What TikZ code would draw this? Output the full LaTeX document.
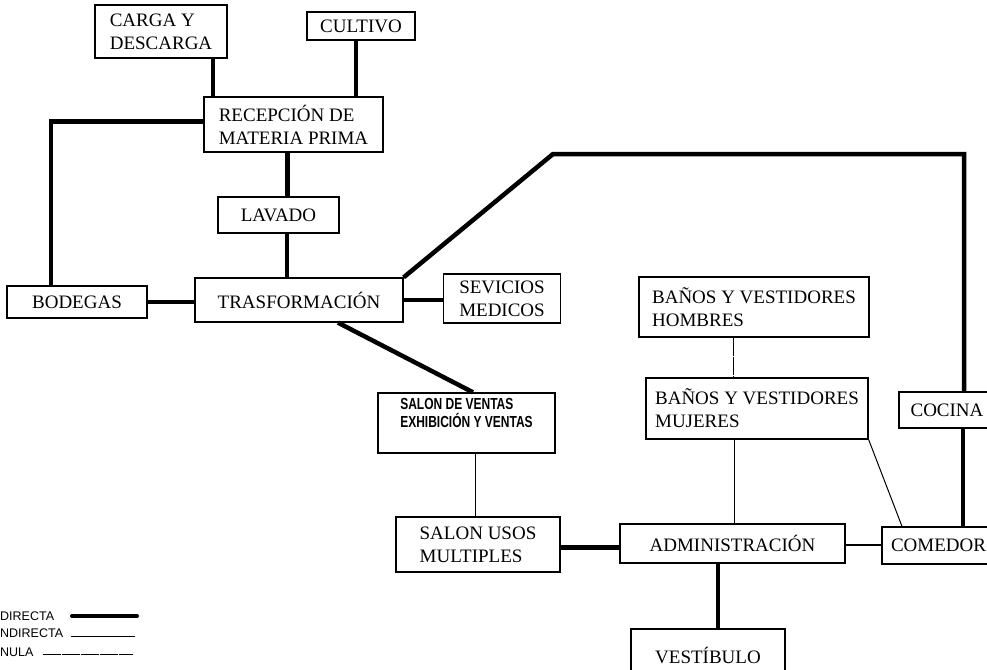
\documentclass[tikz,border=0pt]{standalone}
\usepackage{fontspec}
\setmainfont{Liberation Serif}
\newfontfamily\legendfont{Liberation Sans}
\newfontfamily\narrowsans[FakeStretch=0.75]{Liberation Sans}
\usetikzlibrary{calc}
\tikzset{
  zona/.style={draw, line width=1.3pt, inner sep=0pt, align=left, font=\fontsize{19}{23}\selectfont},
  zonasans/.style={zona, font=\narrowsans\bfseries\fontsize{16}{18}\selectfont},
  directa/.style={line width=4.5pt},
  media/.style={line width=2pt},
  indirecta/.style={line width=1pt},
  nula/.style={line width=0.8pt, dash pattern=on 18pt off 1pt},
  leyenda/.style={font=\legendfont\fontsize{12.5}{14}\selectfont, anchor=base west, inner sep=0pt},
}

\begin{document}
\begin{tikzpicture}[x=1pt,y=-1pt]
\useasboundingbox (0,0) rectangle (987,669);
\clip (0,0) rectangle (987,669);
% ---------------- zonas
\node[zona, minimum width=132pt, minimum height=53pt] (carga) at (161,31.5) {CARGA Y\\DESCARGA};
\node[zona, minimum width=108pt, minimum height=28pt] (cultivo) at (361,26) {CULTIVO};
\node[zona, minimum width=179pt, minimum height=55pt] (recep) at (293.5,124.5) {RECEPCIÓN DE\\MATERIA PRIMA};
\node[zona, minimum width=121pt, minimum height=36pt] (lavado) at (278.5,215) {LAVADO};
\node[zona, minimum width=140pt, minimum height=32pt] (bodegas) at (77,302) {BODEGAS};
\node[zona, minimum width=208pt, minimum height=44pt] (trasf) at (299,300) {TRASFORMACIÓN};
\node[zona, minimum width=117pt, minimum height=49pt] (sev) at (502,298.5) {SEVICIOS\\MEDICOS};
\node[zonasans, minimum width=177pt, minimum height=60pt] (ventas) at (466.5,423) {SALON DE VENTAS\\EXHIBICIÓN Y VENTAS\\[2pt]\mbox{}};
\node[zona, minimum width=164pt, minimum height=55pt] (usos) at (478,544.5) {SALON USOS\\MULTIPLES};
\node[zona, line width=2.2pt, minimum width=225pt, minimum height=39pt] (admin) at (732.5,543.5) {ADMINISTRACIÓN};
\node[zona, minimum width=113pt, minimum height=37pt] (comedor) at (938.5,545.5) {COMEDOR};
\node[zona, minimum width=154pt, minimum height=52pt] (vest) at (708,655) {VESTÍBULO};
\node[zona, minimum width=230pt, minimum height=60pt] (hombres) at (754,307) {BAÑOS Y VESTIDORES\\HOMBRES};
\node[zona, minimum width=222pt, minimum height=61pt] (mujeres) at (757,408.5) {BAÑOS Y VESTIDORES\\MUJERES};
\node[zona, minimum width=96pt, minimum height=36pt] (cocina) at (947,410) {COCINA};
% ---------------- relaciones
\draw[directa] ([xshift=52pt]carga.south) -- ([xshift=52pt]carga.south |- recep.north);
\draw[directa] ([xshift=-5pt]cultivo.south) -- ([xshift=-5pt]cultivo.south |- recep.north);
\draw[directa] ([yshift=3pt]recep.west) -| ([xshift=-26pt]bodegas.north);
\draw[directa] ([xshift=-6pt]recep.south) -- ([xshift=-6pt]recep.south |- lavado.north);
\draw[directa] ([xshift=8.5pt]lavado.south) -- ([xshift=8.5pt]lavado.south |- trasf.north);
\draw[directa] (bodegas.east) -- (bodegas.east -| trasf.west);
\draw[directa] (trasf.east) -- (trasf.east -| sev.west);
\coordinate (quiebre) at (553,154);
\draw[directa] (trasf.north east) -- (quiebre) -| ([xshift=17pt]cocina.north);
\draw[directa] ([xshift=16pt]cocina.south) -- ([xshift=16pt]cocina.south |- comedor.north);
\draw[directa] ([xshift=39pt]trasf.south) -- ([xshift=6.5pt]ventas.north);
\draw[indirecta] ([xshift=8.5pt]ventas.south) -- ([xshift=8.5pt]ventas.south |- usos.north);
\draw[directa] ([yshift=-3pt]usos.east) -- ([yshift=-3pt]usos.east -| admin.west);
\draw[media] ([yshift=-1.5pt]admin.east) -- ([yshift=-1.5pt]admin.east -| comedor.west);
\draw[directa] ([xshift=-14.5pt]admin.south) -- ([xshift=-14.5pt]admin.south |- vest.north);
\draw[indirecta] ([xshift=-23pt]mujeres.south) -- ([xshift=-23pt]mujeres.south |- admin.north);
\draw[indirecta] (mujeres.south east) -- ([xshift=-36.5pt]comedor.north);
\draw[nula] ([xshift=-21pt]hombres.south) -- ([xshift=-21pt]hombres.south |- mujeres.north);
% ---------------- leyenda
\node[leyenda] (ldir) at (0,620) {DIRECTA};
\node[leyenda] (lind) at (0,637) {NDIRECTA};
\node[leyenda] (lnul) at (0,656) {NULA};
\coordinate (d1) at (72,616);  \coordinate (d2) at (137,616);
\coordinate (i1) at (71,636);  \coordinate (i2) at (135,636);
\coordinate (n1) at (43,654);  \coordinate (n2) at (133,654);
\draw[directa, line width=4pt, line cap=round] (d1) -- (d2);
\draw[indirecta] (i1) -- (i2);
\draw[nula] (n1) -- (n2);
\end{tikzpicture}
\end{document}
